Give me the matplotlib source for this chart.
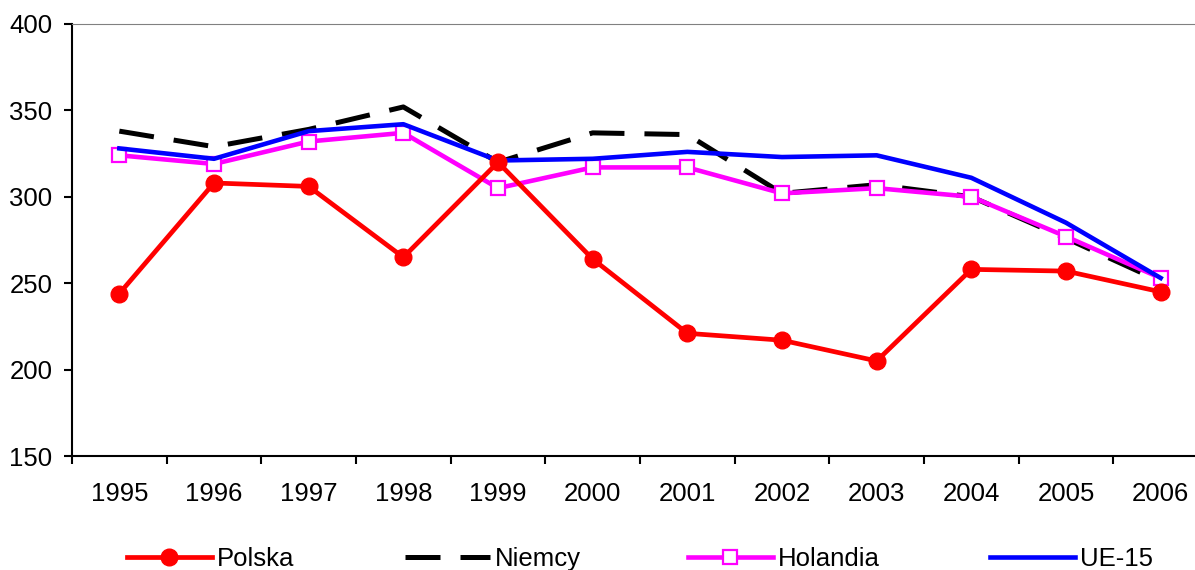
import numpy as np
import matplotlib
matplotlib.use("Agg")
import matplotlib.pyplot as plt

plt.rcParams['font.family'] = ['Liberation Sans', 'DejaVu Sans']

# values
years = ['1995', '1996', '1997', '1998', '1999', '2000',
         '2001', '2002', '2003', '2004', '2005', '2006']
polska = [244, 308, 306, 265, 320, 264, 221, 217, 205, 258, 257, 245]
niemcy = [338, 329, 339, 352, 320, 337, 336, 302, 307, 300, 276, 251]
holandia = [324, 319, 332, 337, 305, 317, 317, 302, 305, 300, 277, 253]
ue15 = [328, 322, 338, 342, 321, 322, 326, 323, 324, 311, 285, 253]

x = np.arange(len(years))

fig = plt.figure(figsize=(11.95, 5.70), dpi=100)
ax = fig.add_axes([72/1195, 0.2, 1136/1195, 0.7579])

h_de, = ax.plot(x, niemcy, color='black', lw=3.6, dashes=(7.0, 4.0), zorder=2)
h_nl, = ax.plot(x, holandia, color='#FF00FF', lw=3.3, marker='s', ms=9.5,
                mfc='white', mec='#FF00FF', mew=1.6, zorder=3)
h_eu, = ax.plot(x, ue15, color='#0000FF', lw=3.3, zorder=4)
h_pl, = ax.plot(x, polska, color='#FF0000', lw=3.4, marker='o', ms=12,
                mec='#FF0000', zorder=5)

ax.set_xlim(-0.5, len(years) - 0.5)
ax.set_ylim(150, 400)
ax.set_yticks(np.arange(150, 401, 50))
ax.set_xticks(x)
ax.set_xticklabels(years)
ax.set_xticks(np.arange(-0.5, len(years), 1), minor=True)
ax.tick_params(axis='x', which='major', length=0, pad=19, labelsize=18.5)
ax.tick_params(axis='x', which='minor', length=6, width=1.5, direction='out')
ax.tick_params(axis='y', length=6, width=1.5, pad=8, labelsize=18.5)

for s in ['left', 'bottom']:
    ax.spines[s].set_linewidth(1.5)
ax.spines['right'].set_visible(False)
ax.spines['top'].set_color('#808080')
ax.spines['top'].set_linewidth(0.8)

# legend entries along the bottom edge
entries = [(h_pl, 'Polska', 127), (h_de, 'Niemcy', 405),
           (h_nl, 'Holandia', 688), (h_eu, 'UE-15', 990)]
for h, lab, px in entries:
    fig.legend([h], [lab], loc='center left', bbox_to_anchor=(px/1195, 1 - 559/570),
               frameon=False, fontsize=18.5, handlelength=3.3, handletextpad=0.2,
               borderpad=0, borderaxespad=0)

fig.savefig('out.png', dpi=100)
